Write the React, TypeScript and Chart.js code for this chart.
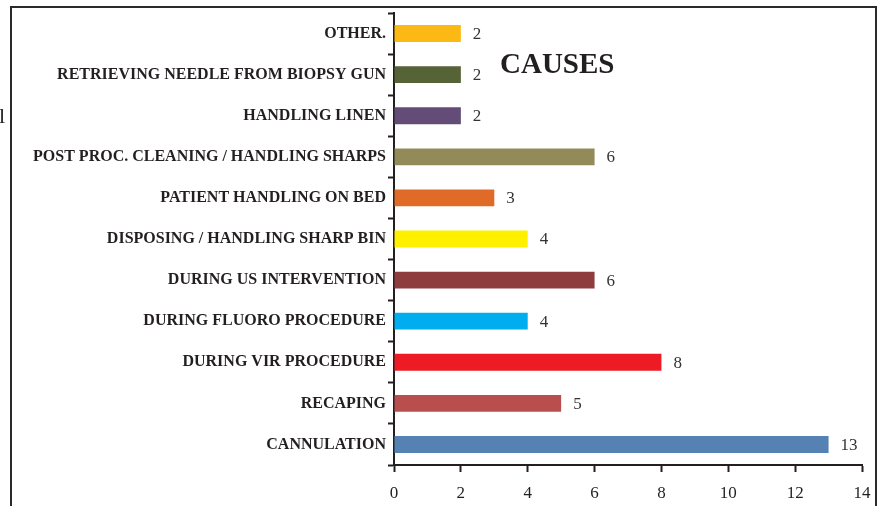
import React, { useEffect, useRef } from "react";
import { Chart, registerables } from "chart.js";

Chart.register(...registerables);

const categories: string[] = [
  "OTHER.",
  "RETRIEVING NEEDLE FROM BIOPSY GUN",
  "HANDLING LINEN",
  "POST PROC. CLEANING / HANDLING SHARPS",
  "PATIENT HANDLING ON BED",
  "DISPOSING / HANDLING SHARP BIN",
  "DURING US INTERVENTION",
  "DURING FLUORO PROCEDURE",
  "DURING VIR PROCEDURE",
  "RECAPING",
  "CANNULATION",
];

const values: number[] = [2, 2, 2, 6, 3, 4, 6, 4, 8, 5, 13];

const barColors: string[] = [
  "#FDB913",
  "#566337",
  "#634D78",
  "#938A5A",
  "#E06B28",
  "#FFF000",
  "#8E3C3E",
  "#00AEEF",
  "#ED1C24",
  "#B84F4E",
  "#5582B3",
];

const xTicks: number[] = [0, 2, 4, 6, 8, 10, 12, 14];
const chartTitle = "CAUSES";

const SERIF = "'Liberation Serif', 'Times New Roman', serif";

const decorPlugin = {
  id: "decor",
  afterDraw(chart: any) {
    const ctx = chart.ctx;
    ctx.save();
    // outer frame (left, top, right)
    ctx.strokeStyle = "#2a2a2a";
    ctx.lineWidth = 2;
    ctx.beginPath();
    ctx.moveTo(11, 520);
    ctx.lineTo(11, 7);
    ctx.lineTo(876, 7);
    ctx.lineTo(876, 520);
    ctx.stroke();
    // clipped glyph at far left
    ctx.fillStyle = "#231F20";
    ctx.font = `22px ${SERIF}`;
    ctx.textAlign = "left";
    ctx.textBaseline = "alphabetic";
    ctx.fillText("l", -1, 123);
    // title
    ctx.font = `bold 29px ${SERIF}`;
    ctx.fillText(chartTitle, 500, 73);
    // value labels
    const meta = chart.getDatasetMeta(0);
    ctx.font = `17px ${SERIF}`;
    ctx.fillStyle = "#333333";
    ctx.textBaseline = "middle";
    meta.data.forEach((el: any, i: number) => {
      ctx.fillText(String(values[i]), el.x + 12, el.y + 1);
    });
    ctx.restore();
  },
};

export default function App() {
  const canvasRef = useRef<HTMLCanvasElement | null>(null);

  useEffect(() => {
    if (!canvasRef.current) return;
    const chart = new Chart(canvasRef.current, {
      type: "bar",
      data: {
        labels: categories,
        datasets: [
          {
            data: values,
            backgroundColor: barColors,
            borderWidth: 0,
            barPercentage: 0.41,
            categoryPercentage: 1,
          },
        ],
      },
      options: {
        indexAxis: "y",
        animation: false,
        responsive: true,
        maintainAspectRatio: false,
        layout: { padding: { top: 13, right: 17, left: 0, bottom: 0 } },
        plugins: {
          legend: { display: false },
          tooltip: { enabled: false },
          title: { display: false },
        },
        scales: {
          x: {
            min: 0,
            max: 14,
            afterBuildTicks: (scale: any) => {
              scale.ticks = xTicks.map((v) => ({ value: v }));
            },
            afterFit: (scale: any) => {
              scale.height = 41;
              scale.paddingRight = 0;
              scale.paddingLeft = 0;
            },
            grid: {
              drawOnChartArea: false,
              drawTicks: true,
              tickLength: 7,
              tickWidth: 2,
              tickColor: "#231F20",
            },
            border: { display: true, color: "#231F20", width: 2 },
            ticks: {
              color: "#231F20",
              font: { family: SERIF, size: 17 },
              padding: 11,
              maxRotation: 0,
            },
          },
          y: {
            afterFit: (scale: any) => {
              scale.width = 394;
            },
            grid: {
              drawOnChartArea: false,
              drawTicks: true,
              tickLength: 6,
              tickWidth: 2,
              tickColor: "#231F20",
              offset: true,
            },
            border: { display: true, color: "#231F20", width: 2 },
            ticks: {
              color: "#231F20",
              font: { family: SERIF, size: 16, weight: "bold" },
              padding: 2,
              autoSkip: false,
            },
          },
        },
      },
      plugins: [decorPlugin],
    });
    return () => chart.destroy();
  }, []);

  return (
    <div
      style={{
        position: "fixed",
        left: 0,
        top: 0,
        width: 879,
        height: 506,
        background: "#ffffff",
      }}
    >
      <canvas ref={canvasRef} />
    </div>
  );
}
